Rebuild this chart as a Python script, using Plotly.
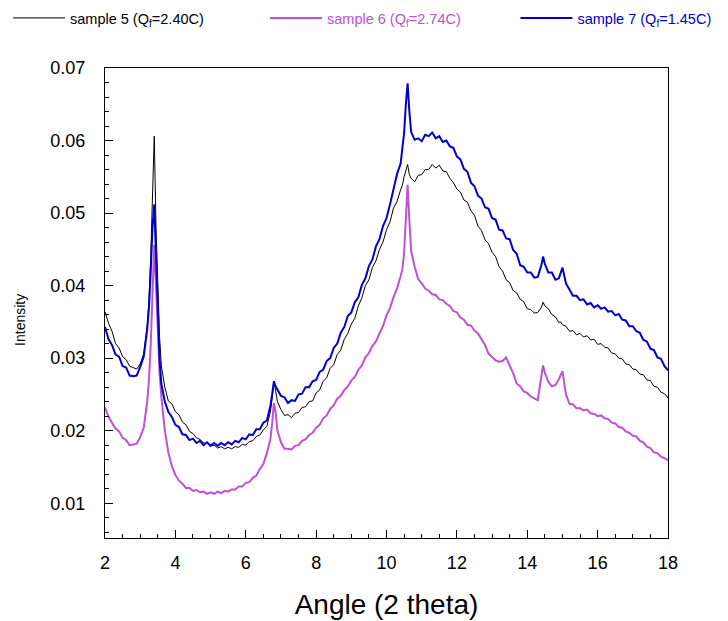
import plotly.graph_objects as go

# Common 2-theta sampling (degrees)
angle = [
    2.0, 2.1, 2.2, 2.3, 2.4, 2.5, 2.6, 2.7, 2.8, 2.9, 3.0, 3.1, 3.2,
    3.25, 3.3, 3.35, 3.4, 3.45, 3.5, 3.55, 3.6,
    3.7, 3.8, 3.9, 4.0, 4.1, 4.2, 4.3, 4.4, 4.5, 4.6, 4.7, 4.8, 4.9, 5.0, 5.1, 5.2, 5.3, 5.4, 5.5, 5.6, 5.7, 5.8, 5.9, 6.0, 6.1, 6.2, 6.3, 6.4, 6.5, 6.6, 6.7,
    6.75, 6.8, 6.85, 6.9,
    7.0, 7.1, 7.2, 7.3, 7.4, 7.5, 7.6, 7.7, 7.8, 7.9, 8.0, 8.1, 8.2, 8.3, 8.4, 8.5, 8.6, 8.7, 8.8, 8.9, 9.0, 9.1, 9.2, 9.3, 9.4, 9.5, 9.6, 9.7, 9.8, 9.9, 10.0, 10.1, 10.2, 10.3, 10.4,
    10.45, 10.5, 10.55, 10.6, 10.65, 10.7,
    10.8, 10.9, 11.0, 11.1, 11.2, 11.3, 11.4, 11.5, 11.6, 11.7, 11.8, 11.9, 12.0, 12.1, 12.2, 12.3, 12.4, 12.5, 12.6, 12.7, 12.8, 12.9, 13.0, 13.1, 13.2, 13.3, 13.4, 13.5, 13.6, 13.7, 13.8, 13.9, 14.0, 14.1, 14.2, 14.3, 14.4,
    14.45, 14.5,
    14.6, 14.7, 14.8, 14.9,
    14.95, 15.0,
    15.1, 15.2, 15.3, 15.4, 15.5, 15.6, 15.7, 15.8, 15.9, 16.0, 16.1, 16.2, 16.3, 16.4, 16.5, 16.6, 16.7, 16.8, 16.9, 17.0, 17.1, 17.2, 17.3, 17.4, 17.5, 17.6, 17.7, 17.8, 17.9, 18.0,
]

# sample 5 (black)
sample5 = [
    0.0364, 0.0348, 0.0337, 0.0320, 0.0314, 0.0302, 0.0298, 0.0289, 0.0287, 0.0285, 0.0292, 0.0306, 0.0345,
    0.0380, 0.0440, 0.0540, 0.0606, 0.0480, 0.0390, 0.0330, 0.0290,
    0.0260, 0.0241, 0.0237, 0.0226, 0.0222, 0.0212, 0.0208, 0.0199, 0.0196, 0.0190, 0.0188, 0.0183, 0.0183, 0.0179, 0.0180, 0.0176, 0.0178, 0.0175, 0.0177, 0.0175, 0.0178, 0.0177, 0.0181, 0.0180, 0.0185, 0.0186, 0.0192, 0.0194, 0.0201, 0.0206, 0.0226,
    0.0245, 0.0268, 0.0255, 0.0240,
    0.0229, 0.0221, 0.0222, 0.0218, 0.0224, 0.0225, 0.0232, 0.0233, 0.0240, 0.0241, 0.0252, 0.0256, 0.0268, 0.0273, 0.0286, 0.0291, 0.0305, 0.0311, 0.0326, 0.0334, 0.0347, 0.0355, 0.0372, 0.0383, 0.0400, 0.0408, 0.0425, 0.0434, 0.0450, 0.0460, 0.0477, 0.0488, 0.0507, 0.0516, 0.0532,
    0.0538, 0.0550, 0.0558, 0.0567, 0.0553, 0.0548,
    0.0543, 0.0552, 0.0553, 0.0560, 0.0560, 0.0567, 0.0562, 0.0566, 0.0558, 0.0557, 0.0548, 0.0542, 0.0533, 0.0529, 0.0518, 0.0515, 0.0503, 0.0497, 0.0482, 0.0476, 0.0463, 0.0458, 0.0446, 0.0440, 0.0426, 0.0420, 0.0408, 0.0404, 0.0393, 0.0390, 0.0381, 0.0378, 0.0368, 0.0367, 0.0362, 0.0363, 0.0370,
    0.0377, 0.0372,
    0.0368, 0.0360, 0.0357, 0.0349,
    0.0350, 0.0346,
    0.0344, 0.0337, 0.0338, 0.0332, 0.0334, 0.0329, 0.0331, 0.0325, 0.0326, 0.0319, 0.0320, 0.0315, 0.0314, 0.0307, 0.0306, 0.0300, 0.0299, 0.0292, 0.0291, 0.0285, 0.0284, 0.0278, 0.0277, 0.0270, 0.0269, 0.0261, 0.0260, 0.0253, 0.0251, 0.0245,
]

# sample 6 (violet)
sample6 = [
    0.0232, 0.0219, 0.0211, 0.0203, 0.0199, 0.0190, 0.0187, 0.0180, 0.0181, 0.0182, 0.0191, 0.0204, 0.0240,
    0.0270, 0.0320, 0.0390, 0.0456, 0.0400, 0.0330, 0.0280, 0.0248,
    0.0200, 0.0170, 0.0151, 0.0139, 0.0131, 0.0127, 0.0121, 0.0121, 0.0117, 0.0118, 0.0115, 0.0116, 0.0113, 0.0115, 0.0113, 0.0116, 0.0114, 0.0117, 0.0116, 0.0119, 0.0119, 0.0123, 0.0123, 0.0128, 0.0129, 0.0135, 0.0138, 0.0147, 0.0154, 0.0169, 0.0188,
    0.0210, 0.0238, 0.0225, 0.0200,
    0.0184, 0.0175, 0.0175, 0.0174, 0.0179, 0.0180, 0.0186, 0.0188, 0.0194, 0.0197, 0.0204, 0.0208, 0.0217, 0.0221, 0.0230, 0.0235, 0.0244, 0.0248, 0.0256, 0.0261, 0.0269, 0.0274, 0.0284, 0.0290, 0.0301, 0.0307, 0.0317, 0.0323, 0.0334, 0.0344, 0.0359, 0.0369, 0.0384, 0.0396, 0.0413,
    0.0422, 0.0445, 0.0500, 0.0539, 0.0490, 0.0448,
    0.0426, 0.0409, 0.0403, 0.0396, 0.0393, 0.0388, 0.0387, 0.0381, 0.0380, 0.0375, 0.0372, 0.0365, 0.0363, 0.0356, 0.0353, 0.0346, 0.0345, 0.0338, 0.0334, 0.0325, 0.0318, 0.0306, 0.0301, 0.0297, 0.0295, 0.0296, 0.0301, 0.0291, 0.0279, 0.0265, 0.0261, 0.0254, 0.0252, 0.0247, 0.0245, 0.0242, 0.0275,
    0.0290, 0.0280,
    0.0267, 0.0261, 0.0263, 0.0271,
    0.0278, 0.0282,
    0.0250, 0.0237, 0.0236, 0.0231, 0.0231, 0.0228, 0.0229, 0.0224, 0.0223, 0.0220, 0.0221, 0.0217, 0.0216, 0.0211, 0.0210, 0.0205, 0.0204, 0.0199, 0.0197, 0.0193, 0.0192, 0.0186, 0.0184, 0.0178, 0.0176, 0.0170, 0.0169, 0.0164, 0.0162, 0.0159,
]

# sample 7 (blue)
sample7 = [
    0.0343, 0.0326, 0.0318, 0.0305, 0.0302, 0.0289, 0.0287, 0.0276, 0.0275, 0.0276, 0.0288, 0.0302, 0.0340,
    0.0370, 0.0420, 0.0480, 0.0512, 0.0440, 0.0360, 0.0300, 0.0265,
    0.0240, 0.0226, 0.0219, 0.0208, 0.0205, 0.0195, 0.0194, 0.0187, 0.0189, 0.0183, 0.0186, 0.0180, 0.0184, 0.0179, 0.0183, 0.0179, 0.0183, 0.0180, 0.0184, 0.0181, 0.0186, 0.0184, 0.0190, 0.0188, 0.0195, 0.0194, 0.0202, 0.0202, 0.0211, 0.0214, 0.0234,
    0.0250, 0.0268, 0.0261, 0.0256,
    0.0248, 0.0246, 0.0238, 0.0242, 0.0241, 0.0250, 0.0251, 0.0260, 0.0260, 0.0268, 0.0270, 0.0281, 0.0284, 0.0296, 0.0300, 0.0314, 0.0320, 0.0335, 0.0343, 0.0358, 0.0363, 0.0377, 0.0384, 0.0401, 0.0410, 0.0427, 0.0436, 0.0454, 0.0464, 0.0482, 0.0493, 0.0512, 0.0532, 0.0554, 0.0568,
    0.0588, 0.0610, 0.0650, 0.0679, 0.0640, 0.0612,
    0.0601, 0.0603, 0.0599, 0.0608, 0.0606, 0.0611, 0.0603, 0.0606, 0.0598, 0.0600, 0.0592, 0.0590, 0.0578, 0.0574, 0.0561, 0.0557, 0.0542, 0.0537, 0.0524, 0.0520, 0.0508, 0.0506, 0.0493, 0.0491, 0.0477, 0.0476, 0.0465, 0.0464, 0.0449, 0.0444, 0.0428, 0.0426, 0.0418, 0.0418, 0.0411, 0.0412, 0.0428,
    0.0440, 0.0430,
    0.0418, 0.0418, 0.0408, 0.0410,
    0.0418, 0.0425,
    0.0403, 0.0394, 0.0386, 0.0386, 0.0380, 0.0381, 0.0374, 0.0376, 0.0370, 0.0373, 0.0368, 0.0370, 0.0364, 0.0365, 0.0359, 0.0361, 0.0353, 0.0352, 0.0344, 0.0344, 0.0337, 0.0335, 0.0325, 0.0323, 0.0313, 0.0311, 0.0301, 0.0299, 0.0289, 0.0283,
]

names = ["sample 5 (Q<sub>f</sub>=2.40C)", "sample 6 (Q<sub>f</sub>=2.74C)", "sample 7 (Q<sub>f</sub>=1.45C)"]
colors = ["#000000", "#C050D8", "#0000CC"]
widths = [1, 2, 2]
legend_ids = ["legend", "legend2", "legend3"]
legend_x = [0.011, 0.364, 0.708]   # container fractions

fig = go.Figure()
for ys, nm, c, w, lg in zip([sample5, sample6, sample7], names, colors, widths, legend_ids):
    fig.add_trace(go.Scatter(
        x=angle, y=ys, mode="lines",
        name=f"<span style='color:{c}'>{nm}</span>",
        line=dict(color=c, width=w),
        legend=lg, showlegend=True,
    ))

axis_common = dict(
    showline=True, linecolor="black", linewidth=1, mirror=True,
    ticks="inside", ticklen=8, tickcolor="black", showgrid=False, zeroline=False,
    tickfont=dict(size=18, color="black"),
)
fig.update_xaxes(
    range=[2, 18], dtick=2, tick0=2, ticklabelstandoff=8,
    minor=dict(ticks="inside", ticklen=4, dtick=0.5, tickcolor="black"),
    title=dict(text="Angle (2 theta)", font=dict(size=28, color="black"), standoff=22),
    **axis_common,
)
fig.update_yaxes(
    range=[0.0052, 0.07], dtick=0.01, tick0=0.0, ticklabelstandoff=15,
    minor=dict(ticks="inside", ticklen=4, dtick=0.002, tickcolor="black"),
    **axis_common,
)

fig.add_annotation(
    text="Intensity", xref="paper", yref="paper", x=-0.151, y=0.464,
    xanchor="center", yanchor="middle", textangle=-90, showarrow=False,
    font=dict(size=14, color="black"),
)

legend_style = dict(orientation="v", xref="container", yref="container", y=0.971,
                    xanchor="left", yanchor="middle", visible=True, itemwidth=52,
                    font=dict(size=14.5, family="Liberation Sans, Arial, sans-serif"),
                    bgcolor="rgba(0,0,0,0)")
fig.update_layout(
    width=728, height=621,
    margin=dict(l=105, r=60, t=68, b=83, autoexpand=False),
    plot_bgcolor="white", paper_bgcolor="white",
    showlegend=True,
    font=dict(family="Liberation Sans, Arial, sans-serif", color="black"),
    legend=dict(x=legend_x[0], **legend_style),
    legend2=dict(x=legend_x[1], **legend_style),
    legend3=dict(x=legend_x[2], **legend_style),
)
fig.write_html("out.html")
